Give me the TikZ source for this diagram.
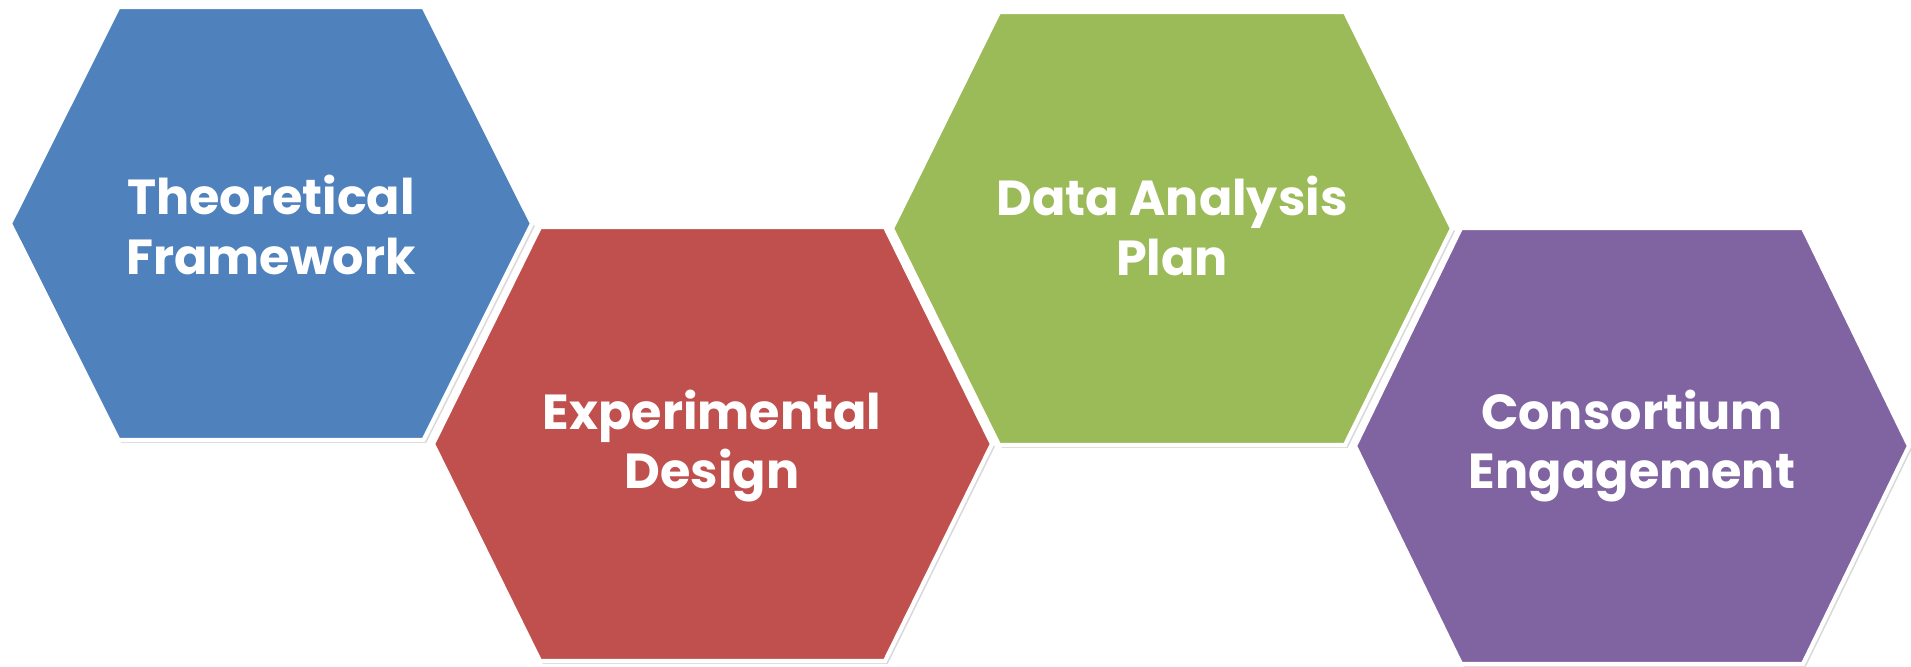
\documentclass[tikz,border=0pt]{standalone}
\usepackage{fontspec}
\setsansfont{Poppins}
\usetikzlibrary{shadows}
\definecolor{cellblue}{HTML}{4F81BD}
\definecolor{cellred}{HTML}{C0504D}
\definecolor{cellgreen}{HTML}{9BBB59}
\definecolor{cellpurple}{HTML}{8064A2}
\tikzset{cell/.style={draw=white, line width=1.2pt,
  drop shadow={shadow xshift=0.8pt, shadow yshift=-0.8pt, opacity=0.3}}}
\tikzset{celltext/.style={text=white, align=center,
  font=\sffamily\bfseries\fontsize{14}{17}\selectfont}}

\begin{document}
\begin{tikzpicture}[x=0.01cm, y=-0.01cm]
      \useasboundingbox (0,0) rectangle (1911,666);

      \filldraw [cell, fill=cellblue] (10,223.5) -- (118.5,7) -- (423.5,7) -- (532,223.5) -- (423.5,440) -- (118.5,440) -- cycle;
      \node [celltext] (theory) at (271,225) {Theoretical\\Framework};

      \filldraw [cell, fill=cellred] (433,444) -- (540,227) -- (885,227) -- (992,444) -- (885,661) -- (540,661) -- cycle;
      \node [celltext] (design) at (712,446) {Experimental\\Design};

      \filldraw [cell, fill=cellgreen] (892,228.5) -- (999,12) -- (1345,12) -- (1452,228.5) -- (1345,445) -- (999,445) -- cycle;
      \node [celltext] (analysis) at (1172,226) {Data Analysis\\Plan};

      \filldraw [cell, fill=cellpurple] (1355,446) -- (1461,228) -- (1803,228) -- (1909,446) -- (1803,664) -- (1461,664) -- cycle;
      \node [celltext] (consortium) at (1632,446) {Consortium\\Engagement};

    \end{tikzpicture}
\end{document}
